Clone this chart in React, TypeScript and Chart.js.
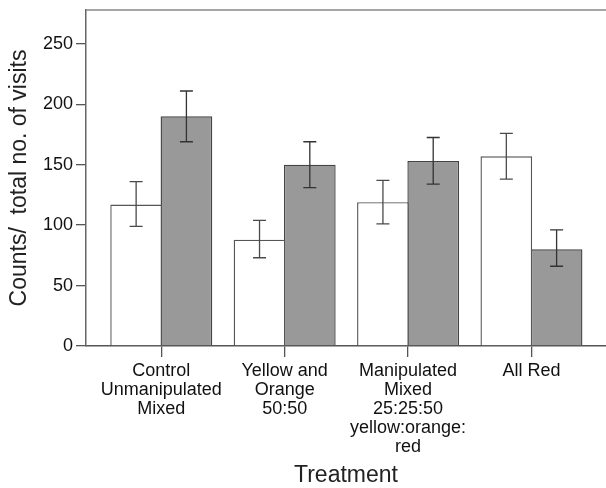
import React, { useEffect, useRef } from "react";
import { Chart, registerables } from "chart.js";

Chart.register(...registerables);

const categories: string[][] = [
  ["Control", "Unmanipulated", "Mixed"],
  ["Yellow and", "Orange", "50:50"],
  ["Manipulated", "Mixed", "25:25:50", "yellow:orange:", "red"],
  ["All Red"],
];
const categoryPositions = [1, 2, 3, 4];

const whiteValues = [117, 88, 119, 157];
const whiteLow = [99, 73, 101, 138];
const whiteHigh = [136, 104, 137, 176];

const grayValues = [190, 150, 153, 80];
const grayLow = [169, 131, 134, 66];
const grayHigh = [211, 169, 172.5, 96];

const yTicks = [0, 50, 100, 150, 200, 250];

const errorBars = [
  { low: whiteLow, high: whiteHigh, color: "#4a4a4a" },
  { low: grayLow, high: grayHigh, color: "#333333" },
];

const errorBarPlugin = {
  id: "errorBars",
  afterDatasetsDraw(chart: any) {
    const ctx = chart.ctx;
    const yScale = chart.scales.y;
    errorBars.forEach((eb, di) => {
      const meta = chart.getDatasetMeta(di);
      meta.data.forEach((bar: any, j: number) => {
        const x = bar.x;
        const yH = yScale.getPixelForValue(eb.high[j]);
        const yL = yScale.getPixelForValue(eb.low[j]);
        ctx.save();
        ctx.strokeStyle = eb.color;
        ctx.lineWidth = 1.3;
        ctx.beginPath();
        ctx.moveTo(x, yH);
        ctx.lineTo(x, yL);
        ctx.moveTo(x - 6.5, yH);
        ctx.lineTo(x + 6.5, yH);
        ctx.moveTo(x - 6.5, yL);
        ctx.lineTo(x + 6.5, yL);
        ctx.stroke();
        ctx.restore();
      });
    });
  },
};

const topBorderPlugin = {
  id: "topBorder",
  afterDraw(chart: any) {
    const { ctx, chartArea } = chart;
    ctx.save();
    ctx.strokeStyle = "#888888";
    ctx.lineWidth = 1.5;
    ctx.beginPath();
    ctx.moveTo(chartArea.left, chartArea.top);
    ctx.lineTo(chart.width, chartArea.top);
    ctx.stroke();
    ctx.restore();
  },
};

export default function App() {
  const ref = useRef<HTMLCanvasElement>(null);
  useEffect(() => {
    document.body.style.margin = "0";
    Chart.defaults.font.family = "'Liberation Sans', Arial, sans-serif";
    const chart = new Chart(ref.current as HTMLCanvasElement, {
      type: "bar",
      data: {
        datasets: [
          {
            data: categoryPositions.map((x, i) => ({ x, y: whiteValues[i] })),
            backgroundColor: "#ffffff",
            borderColor: "#555555",
            borderWidth: 1.4,
            inflateAmount: 0,
          },
          {
            data: categoryPositions.map((x, i) => ({ x, y: grayValues[i] })),
            backgroundColor: "#999999",
            borderColor: "#444444",
            borderWidth: 1.4,
            inflateAmount: 0,
          },
        ],
      } as any,
      options: {
        animation: false,
        responsive: true,
        maintainAspectRatio: false,
        layout: { padding: { top: 10, right: 0, left: 0, bottom: 0 } },
        datasets: { bar: { categoryPercentage: 0.815, barPercentage: 1.028 } },
        plugins: { legend: { display: false }, tooltip: { enabled: false } },
        scales: {
          x: {
            type: "linear",
            min: 0.39,
            max: 4.604,
            offset: false,
            afterFit: (s: any) => {
              s.height = 142;
              s.paddingLeft = 0;
              s.paddingRight = 0;
            },
            afterBuildTicks: (axis: any) => {
              axis.ticks = categoryPositions.map((v) => ({ value: v }));
            },
            grid: {
              offset: false,
              drawOnChartArea: false,
              drawTicks: true,
              tickLength: 11,
              color: "#555555",
              lineWidth: 1.3,
            },
            border: { color: "#555555", width: 1.5 },
            ticks: {
              autoSkip: false,
              maxRotation: 0,
              padding: 4,
              color: "#111111",
              font: { size: 18, lineHeight: 1.06 },
              callback: (v: any) => categories[Math.round(Number(v)) - 1] ?? "",
            },
            title: {
              display: true,
              text: "Treatment",
              color: "#222222",
              font: { size: 23, lineHeight: 1.1 },
              padding: { top: 0, bottom: 0 },
            },
          },
          y: {
            min: 0,
            max: 278,
            afterFit: (s: any) => {
              s.width = 86;
              s.paddingTop = 0;
              s.paddingBottom = 0;
            },
            afterBuildTicks: (axis: any) => {
              axis.ticks = yTicks.map((v) => ({ value: v }));
            },
            grid: {
              drawOnChartArea: false,
              drawTicks: true,
              tickLength: 10,
              color: "#555555",
              lineWidth: 1.3,
            },
            border: { color: "#666666", width: 1.5 },
            ticks: {
              padding: 3,
              color: "#111111",
              font: { size: 18 },
            },
            title: {
              display: true,
              text: "Counts/  total no. of visits",
              color: "#222222",
              font: { size: 23, lineHeight: 1.2 },
              padding: { top: 6, bottom: 0 },
            },
          },
        },
      } as any,
      plugins: [errorBarPlugin, topBorderPlugin],
    });
    return () => chart.destroy();
  }, []);
  return (
    <div style={{ width: 606, height: 488, position: "relative" }}>
      <canvas ref={ref} />
    </div>
  );
}
